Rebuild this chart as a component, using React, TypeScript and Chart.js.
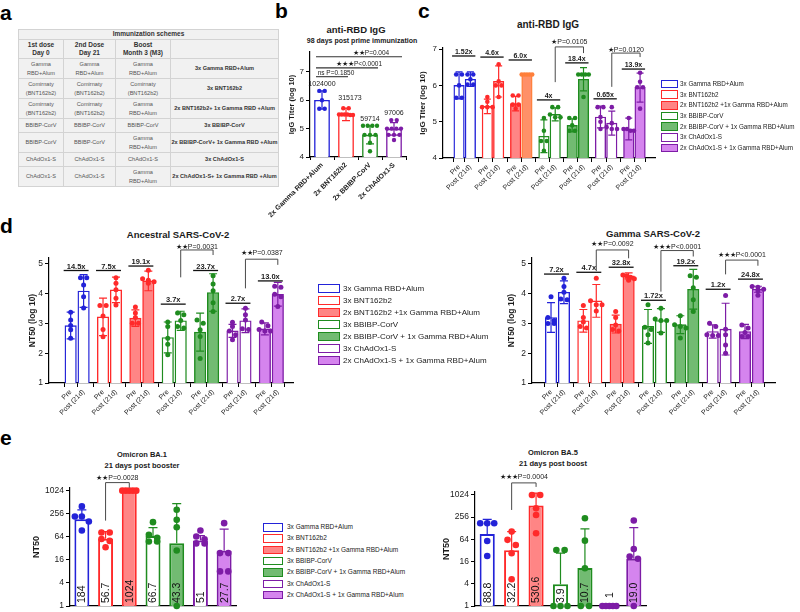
import React, { useEffect, useRef } from "react";
import { Chart, registerables } from "chart.js";

Chart.register(...registerables);

const FONT = "'Liberation Sans', Arial, Helvetica, sans-serif";
const INK = "#1b1b1b";

/* ---------------- shared groups ---------------- */
const groupNames = [
  "3x Gamma RBD+Alum",
  "3x BNT162b2",
  "2x BNT162b2 +1x Gamma RBD+Alum",
  "3x BBIBP-CorV",
  "2x BBIBP-CorV + 1x Gamma RBD+Alum",
  "3x ChAdOx1-S",
  "2x ChAdOx1-S + 1x Gamma RBD+Alum",
];
const phaseLabels = ["Pre", "Post (21d)"];

const BLUE = "#2323d8";
const RED = "#ff2a2a";
const GREEN = "#1f8c1f";
const PURPLE = "#7d1ca6";
const groupLine = [BLUE, RED, RED, GREEN, GREEN, PURPLE, PURPLE];
const groupFill = ["#ffffff", "#ffffff", "#ff8585", "#ffffff", "#72bb72", "#ffffff", "#d584ee"];

/* ---------------- panel a : table ---------------- */
const tableHeader = "Immunization schemes";
const tableColumns = ["1st dose\nDay 0", "2nd Dose\nDay 21", "Boost\nMonth 3 (M3)", ""];
const tableRows = [
  ["Gamma\nRBD+Alum", "Gamma\nRBD+Alum", "Gamma\nRBD+Alum", "3x Gamma RBD+Alum"],
  ["Comirnaty\n(BNT162b2)", "Comirnaty\n(BNT162b2)", "Comirnaty\n(BNT162b2)", "3x BNT162b2"],
  ["Comirnaty\n(BNT162b2)", "Comirnaty\n(BNT162b2)", "Gamma\nRBD+Alum", "2x BNT162b2+ 1x Gamma RBD +Alum"],
  ["BBIBP-CorV", "BBIBP-CorV", "BBIBP-CorV", "3x BBIBP-CorV"],
  ["BBIBP-CorV", "BBIBP-CorV", "Gamma\nRBD+Alum", "2x BBIBP-CorV+ 1x Gamma RBD +Alum"],
  ["ChAdOx1-S", "ChAdOx1-S", "ChAdOx1-S", "3x ChAdOx1-S"],
  ["ChAdOx1-S", "ChAdOx1-S", "Gamma\nRBD+Alum", "2x ChAdOx1-S+ 1x Gamma RBD +Alum"],
];

/* ---------------- panel b ---------------- */
const bCategories = ["2x Gamma RBD+Alum", "2x BNT162b2", "2x BBIBP-CorV", "2x ChAdOx1-S"];
const bMeans = [6.01, 5.5, 4.78, 4.99];
const bValueLabels = ["1024000", "315173", "59714", "97006"];
const bSD = [0.32, 0.22, 0.32, 0.22];
const bPoints = [
  [6.33, 6.33, 6.0, 5.7, 5.7],
  [5.72, 5.72, 5.5, 5.5, 5.5, 5.5, 5.48, 5.48],
  [5.1, 5.1, 5.1, 5.1, 4.78, 4.78, 4.78, 4.5, 4.2],
  [5.3, 5.3, 5.0, 5.0, 5.0, 5.0, 4.78, 4.78, 4.78, 4.6],
];
const bYTicks = [4, 5, 6, 7];
const bSigPairs = [[0, 1], [0, 2], [0, 3]];
const bSigTexts = ["ns P=0.1850", "★★★P<0.0001", "★★P=0.004"];
const bSigLevels = [6.83, 7.14, 7.53];

/* ---------------- panel c ---------------- */
const cPreMeans = [6.0, 5.42, 5.5, 4.6, 4.9, 5.13, 4.8];
const cPostMeans = [6.17, 6.11, 6.3, 5.2, 6.17, 4.96, 5.94];
const cPreSD = [0.37, 0.2, 0.2, 0.45, 0.18, 0.3, 0.3];
const cPostSD = [0.2, 0.43, 0, 0.18, 0.32, 0.33, 0.4];
const cPrePoints = [
  [6.3, 6.3, 6.0, 5.66, 5.66],
  [5.68, 5.55, 5.4, 5.4, 5.4],
  [5.72, 5.72, 5.47, 5.47, 5.36],
  [5.1, 4.75, 4.47, 4.47, 4.2],
  [5.1, 5.1, 4.9, 4.75, 4.75],
  [5.4, 5.4, 5.13, 5.0, 4.8],
  [5.1, 4.8, 4.8, 4.75, 4.75],
];
const cPostPoints = [
  [6.3, 6.3, 6.17, 6.02, 6.02],
  [6.58, 6.11, 6.0, 6.0, 5.68],
  [6.3, 6.3, 6.3, 6.3, 6.3],
  [5.4, 5.4, 5.2, 5.12, 5.12],
  [6.3, 6.3, 6.3, 6.3, 5.68],
  [5.4, 4.96, 4.85, 4.8, 4.8],
  [6.35, 6.1, 5.95, 5.95, 5.36],
];
const cFoldTexts = ["1.52x", "4.6x", "6.0x", "4x", "18.4x", "0.65x", "13.9x"];
const cFoldLevels = [6.81, 6.78, 6.7, 5.6, 6.62, 5.63, 6.45];
const cSigTexts = ["★P=0.0105", "★P=0.0120"];
const cSigBars = [[7, 9], [11, 13]];
const cSigLevels = [[6.09, 7.06, 6.89, 7.2], [5.96, 6.89, 6.78, 6.98]];
const cYTicks = [4, 5, 6, 7];

/* ---------------- panel d : ancestral ---------------- */
const dAPreMeans = [2.93, 3.22, 3.18, 2.53, 2.71, 2.75, 2.82];
const dAPostMeans = [4.09, 4.13, 4.43, 3.09, 4.04, 3.09, 3.98];
const dAPreSD = [0.45, 0.63, 0.28, 0.52, 0.64, 0.22, 0.2];
const dAPostSD = [0.55, 0.43, 0.33, 0.32, 0.63, 0.4, 0.4];
const dAPrePoints = [
  [3.38, 3.12, 2.93, 2.79, 2.5],
  [3.6, 3.6, 3.25, 2.8, 2.55],
  [3.55, 3.35, 3.2, 3.01, 3.01],
  [3.05, 2.9, 2.5, 2.3, 1.95],
  [3.12, 3.01, 2.79, 2.56, 1.82],
  [3.04, 2.9, 2.75, 2.62, 2.45],
  [3.05, 2.92, 2.8, 2.75, 2.75],
];
const dAPostPoints = [
  [4.54, 4.54, 4.29, 3.9, 3.52],
  [4.54, 4.35, 4.13, 3.85, 3.62],
  [4.79, 4.5, 4.45, 4.4, 4.35],
  [3.35, 3.29, 3.1, 2.9, 2.85],
  [4.6, 4.33, 4.1, 3.7, 3.4],
  [3.51, 3.29, 3.12, 2.82, 2.8],
  [4.25, 4.22, 3.98, 3.9, 3.57],
];
const dAFoldTexts = ["14.5x", "7.5x", "19.1x", "3.7x", "23.7x", "2.7x", "13.0x"];
const dAFoldLevels = [4.78, 4.78, 4.93, 3.65, 4.78, 3.68, 4.43];
const dASigTexts = ["★★P=0.0031", "★★P=0.0387"];
const dASigBars = [[7, 9], [11, 13]];
const dASigLevels = [[4.55, 5.47, 5.3, 5.58], [4.18, 5.16, 4.97, 5.36]];

/* ---------------- panel d : gamma ---------------- */
const dGPreMeans = [3.2, 3.09, 2.98, 2.9, 2.96, 2.73, 2.73];
const dGPostMeans = [4.05, 3.76, 4.6, 3.1, 4.15, 2.81, 4.15];
const dGPreSD = [0.5, 0.38, 0.3, 0.57, 0.3, 0.22, 0.24];
const dGPostSD = [0.38, 0.55, 0.1, 0.4, 0.67, 0.87, 0.1];
const dGPrePoints = [
  [3.9, 3.2, 3.1, 3.0, 3.0],
  [3.6, 3.2, 3.05, 2.9, 2.85],
  [3.4, 3.2, 2.95, 2.8, 2.75],
  [3.63, 2.87, 2.8, 2.62, 2.34],
  [3.26, 2.96, 2.9, 2.85, 2.51],
  [3.01, 2.9, 2.62, 2.6, 2.6],
  [2.95, 2.85, 2.7, 2.56, 2.56],
];
const dGPostPoints = [
  [4.52, 4.24, 4.05, 3.82, 3.8],
  [4.52, 3.76, 3.63, 3.63, 3.42],
  [4.63, 4.6, 4.55, 4.5, 4.45],
  [3.51, 3.15, 3.1, 3.1, 2.68],
  [4.6, 4.55, 4.2, 3.8, 3.4],
  [3.94, 2.81, 2.62, 2.28, 2.0],
  [4.24, 4.22, 4.15, 4.1, 3.95],
];
const dGFoldTexts = ["7.2x", "4.7x", "32.8x", "1.72x", "19.2x", "1.2x", "24.8x"];
const dGFoldLevels = [4.66, 4.72, 4.89, 3.78, 4.94, 4.15, 4.49];
const dGSigTexts = ["★★P=0.0092", "★★★P<0.0001", "★★★P<0.0001"];
const dGSigBars = [[3, 5], [7, 9], [11, 13]];
const dGSigLevels = [[4.76, 5.47, 5.19, 5.66], [4.07, 5.45, 5.25, 5.58], [4.65, 5.13, 4.94, 5.3]];
const dYTicks = [1, 2, 3, 4, 5];

/* ---------------- panel e ---------------- */
const eYTicks = [1, 4, 16, 64, 256, 1024];
const eBA1Means = [184, 56.7, 1024, 66.7, 43.3, 51, 27.7];
const eBA1Labels = ["184", "56.7", "1024", "66.7", "43.3", "51", "27.7"];
const eBA1ErrHigh = [324, 88, 1024, 111, 467, 69, 101];
const eBA1Points = [
  [397, 217, 217, 161, 93],
  [83, 83, 56, 50, 34],
  [1024, 1024, 1024, 1024, 1024],
  [154, 72, 60, 48, 48],
  [324, 177, 114, 28, 1],
  [93, 65, 55, 43, 43],
  [145, 24, 24, 8, 8],
];
const eBA1Sig = ["★★P=0.0028"];
const eBA1SigBars = [[1, 2]];
const eBA1SigLevels = [[169, 1660, 1227, 2240]];

const eBA5Means = [88.8, 32.2, 530.6, 3.9, 10.7, 1, 19.0];
const eBA5Labels = ["88.8", "32.2", "530.6", "3.9", "10.7", "1", "19.0"];
const eBA5ErrHigh = [224, 104, 1140, 27, 123, 1, 133];
const eBA5Points = [
  [175, 175, 175, 58, 22.6],
  [104, 62, 45, 27, 5.3],
  [1024, 1024, 445, 294, 94],
  [33, 33, 1, 1, 1],
  [239, 59, 10.5, 1, 1],
  [1, 1, 1, 1, 1],
  [207, 35, 22, 19, 1],
];
const eBA5Sig = ["★★★P=0.0004"];
const eBA5SigBars = [[1, 2]];
const eBA5SigLevels = [[401, 2170, 1690, 3100]];

/* ---------------- layout helpers ---------------- */
type Rect = { left: number; top: number; width: number; height: number };
type Area = { x0: number; y0: number; x1: number; y1: number };

function frame(rect: Rect, area: Area) {
  return {
    padding: { left: 0, top: area.y0 - rect.top, right: rect.left + rect.width - area.x1, bottom: 0 },
    yWidth: area.x0 - rect.left,
    xHeight: rect.top + rect.height - area.y1,
  };
}

const fnt = (size: number, bold = false) => `${bold ? "bold " : ""}${size}px ${FONT}`;

function drawText(ctx: any, text: string, x: number, y: number, size: number, bold: boolean, align = "center", baseline = "alphabetic", color = INK) {
  ctx.font = fnt(size, bold);
  ctx.fillStyle = color;
  ctx.textAlign = align;
  ctx.textBaseline = baseline;
  ctx.fillText(text, x, y);
}

function drawErr(ctx: any, x: number, yTop: number, yBot: number, color: string, cap: number, both: boolean) {
  ctx.strokeStyle = color;
  ctx.lineWidth = 1.2;
  ctx.beginPath();
  ctx.moveTo(x, yTop);
  ctx.lineTo(x, yBot);
  ctx.moveTo(x - cap / 2, yTop);
  ctx.lineTo(x + cap / 2, yTop);
  if (both) {
    ctx.moveTo(x - cap / 2, yBot);
    ctx.lineTo(x + cap / 2, yBot);
  }
  ctx.stroke();
}

function drawSwarm(ctx: any, x: number, ys: number[], color: string, r: number, maxW: number) {
  const sorted = [...ys].sort((a, b) => a - b);
  const rows: number[][] = [];
  for (const y of sorted) {
    const row = rows[rows.length - 1];
    if (row && y - row[0] < r * 1.6) row.push(y);
    else rows.push([y]);
  }
  ctx.fillStyle = color;
  for (const row of rows) {
    const n = row.length;
    const step = n > 1 ? Math.min(r * 2.5, maxW / (n - 1)) : 0;
    row.forEach((y, k) => {
      ctx.beginPath();
      ctx.arc(x + (k - (n - 1) / 2) * step, y, r, 0, Math.PI * 2);
      ctx.fill();
    });
  }
}

function drawBracket(ctx: any, xL: number, xR: number, yLB: number, yTop: number, yRB: number, text: string, yText: number, size: number) {
  ctx.strokeStyle = "#4a4a4a";
  ctx.lineWidth = 1;
  ctx.beginPath();
  ctx.moveTo(xL, yLB);
  ctx.lineTo(xL, yTop);
  ctx.lineTo(xR, yTop);
  ctx.lineTo(xR, yRB);
  ctx.stroke();
  drawText(ctx, text, (xL + xR) / 2, yText, size, false, "center", "middle");
}

function yAxis(f: any, rect: Rect, type: string, min: number, max: number, ticks: number[], title: string, titleX: number, tickSize: number, titleSize: number) {
  return {
    type,
    min,
    max,
    afterBuildTicks: (s: any) => {
      s.ticks = ticks.map((v) => ({ value: v }));
    },
    afterFit: (s: any) => {
      s.width = f.yWidth;
      s.paddingTop = 0;
      s.paddingBottom = 0;
    },
    ticks: { font: { family: FONT, size: tickSize }, color: INK, padding: 2, callback: (v: any) => String(v) },
    grid: { display: true, drawOnChartArea: false, drawTicks: true, tickLength: 4, color: "#000", lineWidth: 1 },
    border: { display: true, color: "#000", width: 1.2 },
    title: {
      display: true,
      text: title,
      color: INK,
      font: { family: FONT, size: titleSize, weight: "bold" },
      padding: { top: titleX - rect.left - (titleSize * 1.2) / 2, bottom: 0 },
    },
  };
}

const baseOptions = (f: any) => ({
  responsive: false,
  maintainAspectRatio: false,
  animation: false,
  layout: { padding: f.padding },
  plugins: { legend: { display: false }, tooltip: { enabled: false }, title: { display: false } },
});

/* ---------------- paired charts (c, d) ---------------- */
type PairedSpec = {
  rect: Rect; area: Area;
  yMin: number; yMax: number; yTicks: number[]; yTitle: string; yTitleX: number;
  xMin: number; xMax: number; barW: number; cap: number; r: number;
  pre: number[]; post: number[]; preSD: number[]; postSD: number[];
  prePts: number[][]; postPts: number[][];
  foldTexts: string[]; foldLevels: number[];
  sigTexts: string[]; sigBars: number[][]; sigLevels: number[][];
  fills: string[]; lines: string[];
  tickSize: number; xTickSize: number; titleSize: number; foldSize: number; sigSize: number;
};

const PAIR_OFFSET = 0.4;
const barPos = (i: number) => Math.floor(i / 2) + (i % 2) * PAIR_OFFSET;

function buildPaired(canvas: HTMLCanvasElement, s: PairedSpec) {
  const f = frame(s.rect, s.area);
  const n = s.pre.length * 2;
  const idx = Array.from({ length: n }, (_, i) => i);
  const values = idx.map((i) => (i % 2 ? s.post : s.pre)[Math.floor(i / 2)]);
  const marks = {
    id: "pairedMarks",
    afterDatasetsDraw(chart: any) {
      const ctx = chart.ctx;
      const xs = chart.scales.x;
      const ys = chart.scales.y;
      const px = (i: number) => xs.getPixelForValue(barPos(i));
      const py = (v: number) => ys.getPixelForValue(v);
      ctx.save();
      idx.forEach((i) => {
        const g = Math.floor(i / 2);
        const post = i % 2 === 1;
        const mean = values[i];
        const sd = post ? s.postSD[g] : s.preSD[g];
        const pts = post ? s.postPts[g] : s.prePts[g];
        const x = px(i);
        if (sd > 0) drawErr(ctx, x, py(mean + sd), Math.min(py(mean - sd), ys.bottom), s.lines[i], s.cap, true);
        drawSwarm(ctx, x, pts.map(py), s.lines[i], s.r, s.barW);
      });
      s.foldTexts.forEach((t, g) => {
        const x0 = px(2 * g) - 7;
        const x1 = px(2 * g + 1) + 5;
        const y = py(s.foldLevels[g]);
        ctx.strokeStyle = "#111";
        ctx.lineWidth = 1.3;
        ctx.beginPath();
        ctx.moveTo(x0, y);
        ctx.lineTo(x1, y);
        ctx.stroke();
        drawText(ctx, t, (x0 + x1) / 2, y - 2, s.foldSize, true);
      });
      s.sigTexts.forEach((t, k) => {
        const [a, b] = s.sigBars[k];
        const [lb, top, rb, ty] = s.sigLevels[k];
        drawBracket(ctx, px(a), px(b), py(lb), py(top), py(rb), t, py(ty), s.sigSize);
      });
      ctx.restore();
    },
  };
  return new Chart(canvas, {
    type: "bar",
    data: {
      datasets: [
        {
          data: idx.map((i) => ({ x: barPos(i), y: values[i] })),
          backgroundColor: s.fills,
          borderColor: s.lines,
          borderWidth: 1.4,
          barThickness: s.barW,
        },
      ],
    },
    options: {
      ...baseOptions(f),
      scales: {
        x: {
          type: "linear",
          min: s.xMin,
          max: s.xMax,
          afterBuildTicks: (sc: any) => {
            sc.ticks = idx.map((i) => ({ value: barPos(i) }));
          },
          afterFit: (sc: any) => {
            sc.height = f.xHeight;
            sc.paddingLeft = 0;
            sc.paddingRight = 0;
          },
          ticks: {
            autoSkip: false,
            minRotation: 45,
            maxRotation: 45,
            padding: 1,
            font: { family: FONT, size: s.xTickSize },
            color: INK,
            callback: (_v: any, i: number) => phaseLabels[i % 2],
          },
          grid: { display: true, drawOnChartArea: false, drawTicks: true, tickLength: 4, color: "#000", lineWidth: 1 },
          border: { display: true, color: "#000", width: 1.2 },
        },
        y: yAxis(f, s.rect, "linear", s.yMin, s.yMax, s.yTicks, s.yTitle, s.yTitleX, s.tickSize, s.titleSize),
      },
    } as any,
    plugins: [marks],
  });
}

const pairFills = (accent: boolean) =>
  groupFill.flatMap((fill, g) => [fill, accent && g === 2 ? "#ff9068" : fill]);
const pairLines = (accent: boolean) =>
  groupLine.flatMap((line, g) => [line, accent && g === 2 ? "#ff7f3a" : line]);

const cSpec: PairedSpec = {
  rect: { left: 400, top: 20, width: 262, height: 190 },
  area: { x0: 443, y0: 48, x1: 655, y1: 158 },
  yMin: 4, yMax: 7.03, yTicks: cYTicks, yTitle: "IgG Titer (log 10)", yTitleX: 423,
  xMin: -0.3, xMax: 6.66, barW: 10.5, cap: 7, r: 2.3,
  pre: cPreMeans, post: cPostMeans, preSD: cPreSD, postSD: cPostSD,
  prePts: cPrePoints, postPts: cPostPoints,
  foldTexts: cFoldTexts, foldLevels: cFoldLevels,
  sigTexts: cSigTexts, sigBars: cSigBars, sigLevels: cSigLevels,
  fills: pairFills(true), lines: pairLines(true),
  tickSize: 8, xTickSize: 7, titleSize: 8, foldSize: 7, sigSize: 7,
};

const dASpec: PairedSpec = {
  rect: { left: 0, top: 228, width: 300, height: 197 },
  area: { x0: 49, y0: 258, x1: 293, y1: 383 },
  yMin: 1, yMax: 5.2, yTicks: dYTicks, yTitle: "NT50 (log 10)", yTitleX: 33,
  xMin: -0.4, xMax: 6.6, barW: 11.5, cap: 8, r: 2.5,
  pre: dAPreMeans, post: dAPostMeans, preSD: dAPreSD, postSD: dAPostSD,
  prePts: dAPrePoints, postPts: dAPostPoints,
  foldTexts: dAFoldTexts, foldLevels: dAFoldLevels,
  sigTexts: dASigTexts, sigBars: dASigBars, sigLevels: dASigLevels,
  fills: pairFills(false), lines: pairLines(false),
  tickSize: 8.5, xTickSize: 7, titleSize: 8.5, foldSize: 7.5, sigSize: 7,
};

const dGSpec: PairedSpec = {
  ...dASpec,
  rect: { left: 480, top: 228, width: 300, height: 197 },
  area: { x0: 532, y0: 258, x1: 775, y1: 383 },
  yTitleX: 512,
  xMin: -0.32, xMax: 6.66,
  pre: dGPreMeans, post: dGPostMeans, preSD: dGPreSD, postSD: dGPostSD,
  prePts: dGPrePoints, postPts: dGPostPoints,
  foldTexts: dGFoldTexts, foldLevels: dGFoldLevels,
  sigTexts: dGSigTexts, sigBars: dGSigBars, sigLevels: dGSigLevels,
};

/* ---------------- panel b ---------------- */
const bRect: Rect = { left: 215, top: 40, width: 195, height: 190 };
const bArea: Area = { x0: 310, y0: 52, x1: 406, y1: 157 };
const bColors = [BLUE, RED, GREEN, PURPLE];

function buildB(canvas: HTMLCanvasElement) {
  const f = frame(bRect, bArea);
  const marks = {
    id: "bMarks",
    afterDatasetsDraw(chart: any) {
      const ctx = chart.ctx;
      const xs = chart.scales.x;
      const ys = chart.scales.y;
      const px = (i: number) => xs.getPixelForValue(i);
      const py = (v: number) => ys.getPixelForValue(v);
      ctx.save();
      bMeans.forEach((m, i) => {
        drawErr(ctx, px(i), py(m + bSD[i]), py(m - bSD[i]), bColors[i], 8, true);
        drawSwarm(ctx, px(i), bPoints[i].map(py), bColors[i], 2.2, 14);
        drawText(ctx, bValueLabels[i], px(i) + (i === 1 ? 4 : 0), py(m) - 14, 7, false);
      });
      bSigPairs.forEach(([a, b], k) => {
        const y = py(bSigLevels[k]);
        const x0 = px(a) - 6;
        const x1 = px(b) + (b === 1 ? 2 : 8);
        ctx.strokeStyle = "#333";
        ctx.lineWidth = 1.1;
        ctx.beginPath();
        ctx.moveTo(x0, y);
        ctx.lineTo(x1, y);
        ctx.stroke();
        drawText(ctx, bSigTexts[k], (x0 + x1) / 2 + (k === 0 ? 4 : 12), y - 2, 6.5, false);
      });
      ctx.restore();
    },
  };
  return new Chart(canvas, {
    type: "bar",
    data: {
      labels: bCategories,
      datasets: [
        {
          data: bMeans,
          backgroundColor: "#ffffff",
          borderColor: bColors,
          borderWidth: 1.6,
          barPercentage: 0.66,
          categoryPercentage: 1,
        },
      ],
    },
    options: {
      ...baseOptions(f),
      scales: {
        x: {
          type: "category",
          afterFit: (sc: any) => {
            sc.height = f.xHeight;
            sc.paddingLeft = 0;
            sc.paddingRight = 0;
          },
          ticks: {
            autoSkip: false,
            minRotation: 45,
            maxRotation: 45,
            padding: 1,
            font: { family: FONT, size: 7, weight: "bold" },
            color: INK,
          },
          grid: { display: true, drawOnChartArea: false, drawTicks: true, tickLength: 3, color: "#000", lineWidth: 1 },
          border: { display: true, color: "#000", width: 1.2 },
        },
        y: yAxis(f, bRect, "linear", 4, 7.7, bYTicks, "IgG Titer (log 10)", 292, 8, 7.5),
      },
    } as any,
    plugins: [marks],
  });
}

/* ---------------- panel e ---------------- */
type LogSpec = {
  rect: Rect; area: Area; yMax: number; titleX: number; barPct: number;
  means: number[]; labels: string[]; errHigh: number[]; pts: number[][];
  sig: string[]; sigBars: number[][]; sigLevels: number[][];
};

const eLSpec: LogSpec = {
  rect: { left: 20, top: 468, width: 222, height: 144 },
  area: { x0: 70, y0: 488, x1: 236, y1: 606 },
  yMax: 1200, titleX: 37, barPct: 0.63,
  means: eBA1Means, labels: eBA1Labels, errHigh: eBA1ErrHigh, pts: eBA1Points,
  sig: eBA1Sig, sigBars: eBA1SigBars, sigLevels: eBA1SigLevels,
};
const eRSpec: LogSpec = {
  rect: { left: 430, top: 468, width: 222, height: 144 },
  area: { x0: 475, y0: 492, x1: 646, y1: 606 },
  yMax: 1230, titleX: 447, barPct: 0.62,
  means: eBA5Means, labels: eBA5Labels, errHigh: eBA5ErrHigh, pts: eBA5Points,
  sig: eBA5Sig, sigBars: eBA5SigBars, sigLevels: eBA5SigLevels,
};

function buildLog(canvas: HTMLCanvasElement, s: LogSpec) {
  const f = frame(s.rect, s.area);
  const marks = {
    id: "eMarks",
    afterDatasetsDraw(chart: any) {
      const ctx = chart.ctx;
      const xs = chart.scales.x;
      const ys = chart.scales.y;
      const px = (i: number) => xs.getPixelForValue(i);
      const py = (v: number) => ys.getPixelForValue(v);
      ctx.save();
      s.means.forEach((m, i) => {
        const x = px(i);
        if (s.errHigh[i] > m) drawErr(ctx, x, py(s.errHigh[i]), py(m), groupLine[i], 9, false);
        drawSwarm(ctx, x, s.pts[i].map(py), groupLine[i], 3.3, 14);
      });
      s.means.forEach((m, i) => {
        const x = px(i);
        ctx.save();
        ctx.translate(x, ys.bottom - (m <= 1 ? 8 : 3));
        ctx.rotate(-Math.PI / 2);
        drawText(ctx, s.labels[i], 0, 0.5, 10.5, false, "left", "middle", "#111");
        ctx.restore();
      });
      s.sig.forEach((t, k) => {
        const [a, b] = s.sigBars[k];
        const [lb, top, rb, ty] = s.sigLevels[k];
        drawBracket(ctx, px(a), px(b), py(lb), py(top), py(rb), t, py(ty), 7);
      });
      ctx.restore();
    },
  };
  return new Chart(canvas, {
    type: "bar",
    data: {
      labels: groupNames,
      datasets: [
        {
          data: s.means,
          backgroundColor: groupFill,
          borderColor: groupLine,
          borderWidth: 2,
          barPercentage: s.barPct,
          categoryPercentage: 1,
        },
      ],
    },
    options: {
      ...baseOptions(f),
      scales: {
        x: {
          type: "category",
          afterFit: (sc: any) => {
            sc.height = f.xHeight;
            sc.paddingLeft = 0;
            sc.paddingRight = 0;
          },
          ticks: { display: false },
          grid: { display: false },
          border: { display: true, color: "#000", width: 1.3 },
        },
        y: yAxis(f, s.rect, "logarithmic", 1, s.yMax, eYTicks, "NT50", s.titleX, 8.5, 9),
      },
    } as any,
    plugins: [marks],
  });
}

/* ---------------- React pieces ---------------- */
function ChartCanvas({ rect, build }: { rect: Rect; build: (c: HTMLCanvasElement) => any }) {
  const ref = useRef<HTMLCanvasElement | null>(null);
  useEffect(() => {
    if (!ref.current) return;
    const chart = build(ref.current);
    return () => chart.destroy();
  }, []);
  return (
    <canvas
      ref={ref}
      width={rect.width}
      height={rect.height}
      style={{ position: "absolute", left: rect.left, top: rect.top, width: rect.width, height: rect.height }}
    />
  );
}

function Label({ x, y, size, bold = false, align = "center", color = INK, children }: any) {
  const style: any = {
    position: "absolute",
    top: y - size * 0.8465,
    fontSize: size,
    lineHeight: `${size}px`,
    fontWeight: bold ? 700 : 400,
    fontFamily: FONT,
    color,
    whiteSpace: "nowrap",
  };
  if (align === "center") return <div style={{ ...style, left: x - 200, width: 400, textAlign: "center" }}>{children}</div>;
  return <div style={{ ...style, left: x }}>{children}</div>;
}

function Legend({ x, textX, y0, step, boxW, boxH, size }: any) {
  return (
    <>
      {groupNames.map((name, i) => {
        const cy = y0 + i * step;
        return (
          <React.Fragment key={name}>
            <div
              style={{
                position: "absolute",
                left: x,
                top: cy - boxH / 2,
                width: boxW,
                height: boxH,
                boxSizing: "border-box",
                border: `1.5px solid ${groupLine[i]}`,
                background: groupFill[i],
              }}
            />
            <Label x={textX} y={cy + size * 0.36} size={size} align="left" color="#222">
              {name}
            </Label>
          </React.Fragment>
        );
      })}
    </>
  );
}

const tableColX = [18, 63, 115, 170, 278];
const tableRowY = [29, 39, 58, 78, 98, 118, 132, 152, 166, 186];

function SchemeTable() {
  const cells: any[] = [];
  const cell = (key: string, c0: number, c1: number, r: number, text: string, size: number, bold: boolean, color: string, lh: number) => {
    cells.push(
      <div
        key={key}
        style={{
          position: "absolute",
          left: tableColX[c0] + 1,
          top: tableRowY[r] + 1,
          width: tableColX[c1] - tableColX[c0] - 1,
          height: tableRowY[r + 1] - tableRowY[r] - 1,
          background: "#f1f1f1",
          display: "flex",
          alignItems: "center",
          justifyContent: "center",
          textAlign: "center",
          whiteSpace: "pre-line",
          fontFamily: FONT,
          fontSize: size,
          lineHeight: lh,
          fontWeight: bold ? 700 : 400,
          color,
        }}
      >
        {text}
      </div>
    );
  };
  cell("h", 0, 4, 0, tableHeader, 6.5, true, "#333", 1);
  tableColumns.forEach((t, c) => cell("c" + c, c, c + 1, 1, t, 6.5, true, "#333", 1.3));
  tableRows.forEach((row, r) =>
    row.forEach((t, c) => cell(`r${r}c${c}`, c, c + 1, r + 2, t, 5.6, c === 3, c === 3 ? "#333" : "#555", 1.6))
  );
  return (
    <>
      <div
        style={{
          position: "absolute",
          left: tableColX[0],
          top: tableRowY[0],
          width: tableColX[4] - tableColX[0] + 1,
          height: tableRowY[tableRowY.length - 1] - tableRowY[0] + 1,
          background: "#d3d3d3",
        }}
      />
      {cells}
    </>
  );
}

export default function App() {
  return (
    <div
      style={{
        position: "fixed",
        left: 0,
        top: 0,
        width: 800,
        height: 612,
        background: "#fff",
        overflow: "hidden",
        fontFamily: FONT,
      }}
    >
      {/* panel letters */}
      <Label x={0} y={20} size={21} bold align="left" color="#000">a</Label>
      <Label x={275} y={18} size={21} bold align="left" color="#000">b</Label>
      <Label x={418} y={18} size={21} bold align="left" color="#000">c</Label>
      <Label x={0} y={233} size={21} bold align="left" color="#000">d</Label>
      <Label x={0} y={445} size={21} bold align="left" color="#000">e</Label>

      <SchemeTable />

      {/* titles */}
      <Label x={356} y={33.5} size={9.5} bold>anti-RBD IgG</Label>
      <Label x={362} y={42.5} size={7} bold>98 days post prime immunization</Label>
      <Label x={548} y={28.6} size={10} bold>anti-RBD IgG</Label>
      <Label x={178} y={238.4} size={9.5} bold>Ancestral SARS-CoV-2</Label>
      <Label x={653} y={237.4} size={9.5} bold>Gamma SARS-CoV-2</Label>
      <Label x={142} y={457.7} size={7.5} bold>Omicron  BA.1</Label>
      <Label x={142} y={468.7} size={7.5} bold>21 days post booster</Label>
      <Label x={553} y={455.7} size={7.5} bold>Omicron BA.5</Label>
      <Label x={553} y={466.7} size={7.5} bold>21 days post boost</Label>

      <ChartCanvas rect={bRect} build={buildB} />
      <ChartCanvas rect={cSpec.rect} build={(c) => buildPaired(c, cSpec)} />
      <ChartCanvas rect={dASpec.rect} build={(c) => buildPaired(c, dASpec)} />
      <ChartCanvas rect={dGSpec.rect} build={(c) => buildPaired(c, dGSpec)} />
      <ChartCanvas rect={eLSpec.rect} build={(c) => buildLog(c, eLSpec)} />
      <ChartCanvas rect={eRSpec.rect} build={(c) => buildLog(c, eRSpec)} />

      <Legend x={661} textX={680} y0={84} step={10.65} boxW={17} boxH={8.5} size={6.3} />
      <Legend x={318} textX={343} y0={288.5} step={12} boxW={22} boxH={9.5} size={8} />
      <Legend x={263} textX={287} y0={527.3} step={11.3} boxW={20} boxH={8.5} size={6.5} />
    </div>
  );
}
